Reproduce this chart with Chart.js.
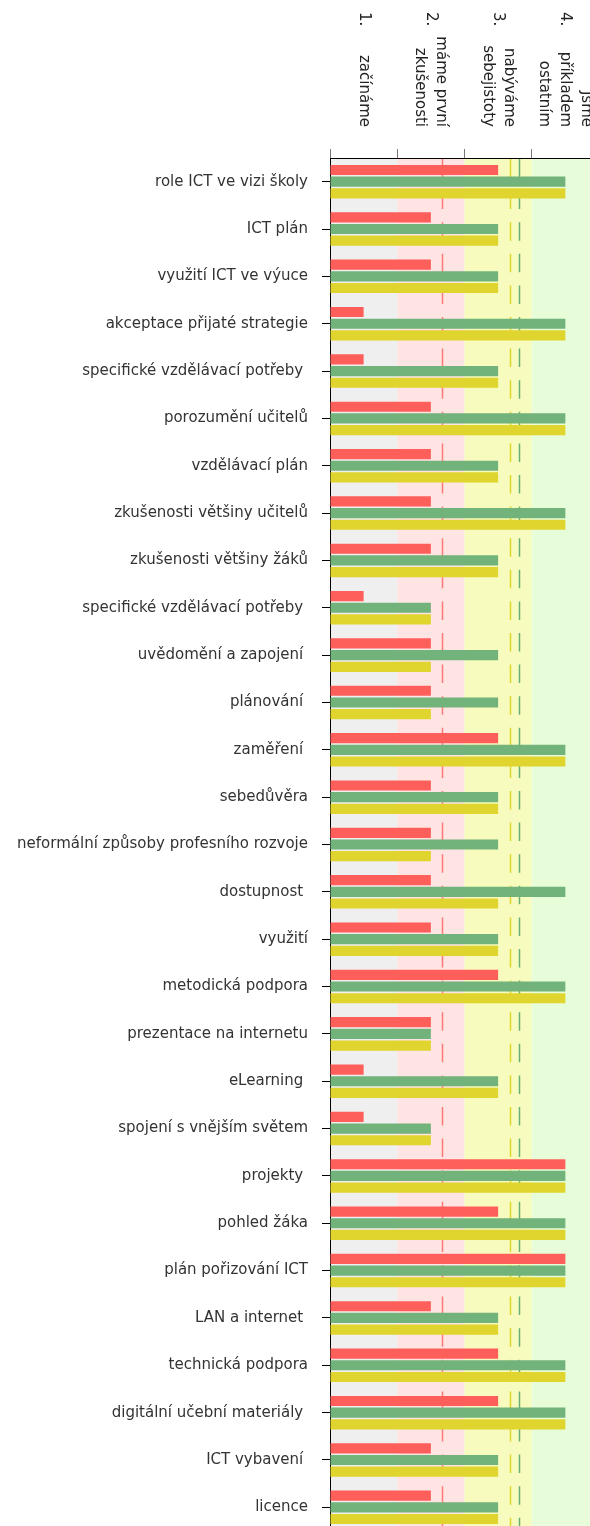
<!DOCTYPE html>
<html>
<head>
<meta charset="utf-8">
<script src="https://cdn.jsdelivr.net/npm/chart.js@4.4.1/dist/chart.umd.min.js"></script>
<style>
  body { margin: 0; overflow: hidden; background: #fff; }
  #wrap { width: 599px; height: 1554px; }
</style>
</head>
<body>
<div id="wrap"><canvas id="ictChart" width="599" height="1554"></canvas></div>
<script>
// categories, top to bottom
const categories = [
    'role ICT ve vizi školy', 'ICT plán', 'využití ICT ve výuce', 'akceptace přijaté strategie',
    'specifické vzdělávací potřeby ', 'porozumění učitelů', 'vzdělávací plán', 'zkušenosti většiny učitelů',
    'zkušenosti většiny žáků', 'specifické vzdělávací potřeby ', 'uvědomění a zapojení ', 'plánování ',
    'zaměření ', 'sebedůvěra', 'neformální způsoby profesního rozvoje', 'dostupnost ', 'využití',
    'metodická podpora', 'prezentace na internetu', 'eLearning ', 'spojení s vnějším světem', 'projekty ',
    'pohled žáka', 'plán pořizování ICT', 'LAN a internet ', 'technická podpora', 'digitální učební materiály ',
    'ICT vybavení ', 'licence'
];

const redValues = [2.5, 1.5, 1.5, 0.5, 0.5, 1.5, 1.5, 1.5, 1.5, 0.5, 1.5, 1.5, 2.5, 1.5, 1.5,
    1.5, 1.5, 2.5, 1.5, 0.5, 0.5, 3.5, 2.5, 3.5, 1.5, 2.5, 2.5, 1.5, 1.5];
const greenValues = [3.5, 2.5, 2.5, 3.5, 2.5, 3.5, 2.5, 3.5, 2.5, 1.5, 2.5, 2.5, 3.5, 2.5, 2.5,
    3.5, 2.5, 3.5, 1.5, 2.5, 1.5, 3.5, 3.5, 3.5, 2.5, 3.5, 3.5, 2.5, 2.5];
const yellowValues = [3.5, 2.5, 2.5, 3.5, 2.5, 3.5, 2.5, 3.5, 2.5, 1.5, 1.5, 1.5, 3.5, 2.5, 1.5,
    2.5, 2.5, 3.5, 1.5, 2.5, 1.5, 3.5, 3.5, 3.5, 2.5, 3.5, 3.5, 2.5, 2.5];

// dashed average lines (red, yellow, green)
const meanValues = [1.67, 2.67, 2.81];

// level labels on the top axis
const levelNumbers = ['1.', '2.', '3.', '4.'];
const levelTexts = [['začínáme'], ['máme první', 'zkušenosti'], ['nabýváme', 'sebejistoty'], ['Jsme', 'příkladem', 'ostatním']];

const barColors = ['#ff5f5a', '#72b27b', '#e0d42e'];
const bandColors = ['#efefef', '#ffe4e4', '#f7fbbd', '#e7fdda'];
const meanColors = ['#ff7a76', '#e0d42e', '#6aae77'];

Chart.defaults.font.family = '"DejaVu Sans", Verdana, sans-serif';

// coloured level bands behind everything
const levelBands = {
    id: 'levelBands',
    beforeDraw(chart) {
        const { ctx, chartArea: a, scales: { x } } = chart;
        ctx.save();
        bandColors.forEach((c, i) => {
            const x1 = x.getPixelForValue(i);
            const x2 = x.getPixelForValue(i + 1);
            ctx.fillStyle = c;
            ctx.fillRect(x1, a.top, x2 - x1, a.bottom - a.top);
        });
        ctx.restore();
    },
    beforeDatasetsDraw(chart) {
        const { ctx, chartArea: a, scales: { x } } = chart;
        ctx.save();
        ctx.lineWidth = 1.5;
        ctx.setLineDash([18.5, 13.1]);
        meanValues.forEach((v, i) => {
            const px = Math.round(x.getPixelForValue(v)) + 0.5;
            ctx.strokeStyle = meanColors[i];
            ctx.beginPath();
            ctx.moveTo(px, a.top + 1);
            ctx.lineTo(px, a.bottom);
            ctx.stroke();
        });
        ctx.restore();
    },
    afterDraw(chart) {
        const { ctx, scales: { x } } = chart;
        ctx.save();
        ctx.font = '15px "DejaVu Sans"';
        ctx.fillStyle = '#222';
        ctx.textBaseline = 'middle';
        levelNumbers.forEach((num, i) => {
            const cx = x.getPixelForValue(i + 0.5);
            ctx.save();
            ctx.translate(cx, 0);
            ctx.rotate(Math.PI / 2);
            ctx.textAlign = 'left';
            ctx.fillText(num, 12, 0);
            const lines = levelTexts[i];
            ctx.textAlign = 'right';
            lines.forEach((ln, j) => {
                ctx.fillText(ln, 127, (j - (lines.length - 1) / 2) * 21);
            });
            ctx.restore();
        });
        ctx.restore();
    }
};

const ctx = document.getElementById('ictChart').getContext('2d');
const ictChart = new Chart(ctx, {
    type: 'bar',
    data: {
        labels: categories,
        datasets: [
            { data: redValues, backgroundColor: barColors[0] },
            { data: greenValues, backgroundColor: barColors[1] },
            { data: yellowValues, backgroundColor: barColors[2] }
        ]
    },
    options: {
        indexAxis: 'y',
        responsive: false,
        animation: false,
        categoryPercentage: 0.74,
        barPercentage: 0.87,
        layout: { padding: 0 },
        plugins: {
            legend: { display: false },
            tooltip: { enabled: false }
        },
        scales: {
            x: {
                position: 'top',
                min: 0,
                max: 4,
                ticks: { display: false, stepSize: 1 },
                grid: { drawOnChartArea: false, tickLength: 9, color: '#777' },
                border: { color: '#000' },
                afterFit(s) { s.height = 158; }
            },
            y: {
                ticks: { color: '#333', font: { size: 15 }, padding: 14, autoSkip: false },
                grid: { drawOnChartArea: false, offset: false, tickLength: 8, color: '#000' },
                border: { color: '#000' },
                afterFit(s) { s.width = 330; }
            }
        }
    },
    plugins: [levelBands]
});
</script>
</body>
</html>
